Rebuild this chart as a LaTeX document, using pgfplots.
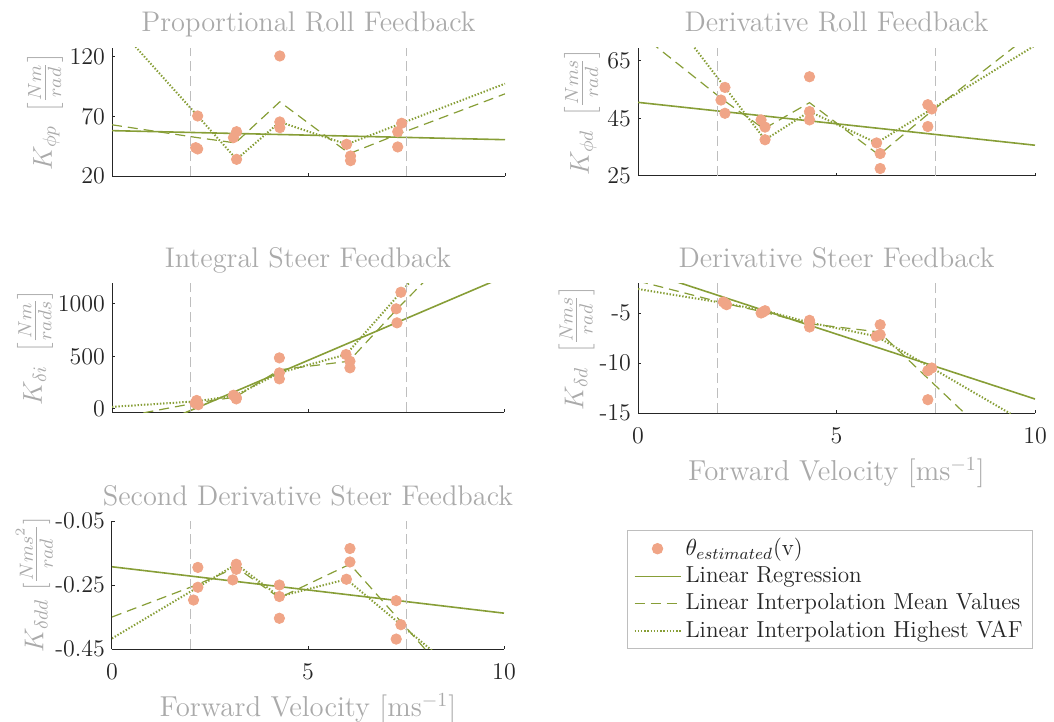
\RequirePackage{fix-cm}
\documentclass[border=0pt]{standalone}
\usepackage{fontspec}
\usepackage{pgfplots}
\pgfplotsset{compat=1.18}
\definecolor{pt}{RGB}{240,165,135}
\definecolor{ol}{RGB}{135,158,55}
\definecolor{tl}{RGB}{38,38,38}
\definecolor{lg}{RGB}{170,170,170}
\definecolor{vg}{RGB}{190,190,190}
\pgfplotsset{
 every axis/.append style={
  scale only axis, axis lines*=left, axis line style={tl, line width=0.5pt, -},
  tick align=inside, major tick length=1.7pt, tick style={tl, line width=0.5pt},
  xmin=0, xmax=10, xtick={0,5,10},
  title style={anchor=base, yshift=2pt, font=\fontsize{14.2}{16}\selectfont, text=lg},
  ylabel style={font=\fontsize{13.6}{16}\selectfont, text=lg, anchor=center, inner sep=0pt},
  xlabel style={font=\fontsize{14.4}{16}\selectfont, text=lg},
  tick label style={font=\fontsize{12}{14}\selectfont, text=tl},
  xticklabel style={yshift=-3.5pt},
 },
 pts/.style={only marks, mark=*, mark size=2.6pt, color=pt, mark options={draw=none, fill=pt},
   legend image code/.code={\draw[mark repeat=2,mark phase=2,##1] plot coordinates {(0pt,0pt)(11.5pt,0pt)(23pt,0pt)};}},
 reg/.style={ol, line width=0.8pt, no marks, legend image code/.code={\draw[##1] (0pt,0pt) -- (23pt,0pt);}},
 mean/.style={ol, line width=0.6pt, dash pattern=on 5pt off 3pt, no marks, legend image code/.code={\draw[##1] (0pt,0pt) -- (23pt,0pt);}},
 vaf/.style={ol, line width=1pt, dash pattern=on 0.7pt off 0.9pt, no marks, legend image code/.code={\draw[##1] (0pt,0pt) -- (23pt,0pt);}},
 vl/.style={vg, line width=0.5pt, dash pattern=on 5pt off 2.5pt, forget plot, no marks},
}
\begin{document}
\begin{tikzpicture}
\path[use as bounding box] (0,0) rectangle (527pt,-361pt);

% Panel 1
\begin{axis}[at={(56pt,-24pt)}, anchor=north west, width=196.5pt, height=64pt,
 ymin=20, ymax=127.5, ytick={20,70,120}, yticklabels={20,70,120}, xticklabel=\empty,
 title={Proportional Roll Feedback}, ylabel={$K_{\phi p}\ \left[\frac{Nm}{rad}\right]$},
 ylabel style={at={(axis description cs:-0.1705,0.5)}}]
\addplot[pts] coordinates {(2.18,70.4)(2.13,43.8)(2.18,42.7)(3.09,52.2)(3.17,57.2)(3.17,34.0)(4.27,120.8)(4.27,65.4)(4.27,60.6)(5.97,46.6)(6.07,36.8)(6.07,32.9)(7.37,64.3)(7.27,57.2)(7.27,44.4)};
\addplot[reg] coordinates {(0,58.1)(10,50.5)};
\addplot[mean] coordinates {(0,63)(2.16,52.3)(3.14,47.8)(4.27,82.3)(6.04,38.8)(7.3,55.3)(10,89)};
\addplot[vaf] coordinates {(0,150.6)(2.18,70.4)(3.17,34)(4.27,65.4)(5.97,46.6)(7.37,64.3)(10,97.5)};
\addplot[vl] coordinates {(2,20)(2,127.5)};
\addplot[vl] coordinates {(7.5,20)(7.5,127.5)};
\end{axis}

% Panel 2
\begin{axis}[at={(319pt,-24pt)}, anchor=north west, width=198.5pt, height=64pt,
 ymin=25, ymax=69.5, ytick={25,45,65}, yticklabels={25,45,65}, xticklabel=\empty,
 title={Derivative Roll Feedback}, ylabel={$K_{\phi d}\ \left[\frac{Nms}{rad}\right]$},
 ylabel style={at={(axis description cs:-0.141,0.5)}}]
\addplot[pts] coordinates {(2.19,55.8)(2.09,51.4)(2.19,46.8)(3.1,44.5)(3.2,42)(3.2,37.6)(4.32,59.5)(4.32,47.4)(4.32,44.5)(6.01,36.5)(6.1,32.8)(6.1,27.6)(7.3,49.8)(7.4,48.3)(7.3,42.2)};
\addplot[reg] coordinates {(0,50.6)(10,35.7)};
\addplot[mean] coordinates {(0,75)(2.16,51.3)(3.17,41.4)(4.32,50.5)(6.07,32.3)(7.33,46.8)(10,75.5)};
\addplot[vaf] coordinates {(0,95.2)(2.19,55.8)(3.2,37.6)(4.32,47.4)(6.01,36.5)(7.4,48.3)(10,70.4)};
\addplot[vl] coordinates {(2,25)(2,69.5)};
\addplot[vl] coordinates {(7.5,25)(7.5,69.5)};
\end{axis}

% Panel 3
\begin{axis}[at={(56pt,-141.5pt)}, anchor=north west, width=196pt, height=64.5pt,
 ymin=-30, ymax=1200, ytick={0,500,1000}, yticklabels={0,500,1000}, xticklabel=\empty,
 title={Integral Steer Feedback}, ylabel={$K_{\delta i}\ \left[\frac{Nm}{rads}\right]$},
 ylabel style={at={(axis description cs:-0.196,0.5)}}]
\addplot[pts] coordinates {(2.16,80)(2.12,55)(2.2,40)(3.1,130)(3.17,110)(3.17,95)(4.27,486)(4.27,343)(4.27,286)(5.97,518)(6.07,454)(6.07,391)(7.37,1112)(7.25,954)(7.27,820)};
\addplot[reg] coordinates {(0,-335)(10,1259)};
\addplot[mean] coordinates {(0,-95)(2.16,58)(3.15,112)(4.27,372)(6.04,454)(7.3,962)(10,1988)};
\addplot[vaf] coordinates {(0,19)(2.16,72)(3.15,127)(4.27,343)(5.97,518)(7.37,1112)(10,2227)};
\addplot[vl] coordinates {(2,-30)(2,1200)};
\addplot[vl] coordinates {(7.5,-30)(7.5,1200)};
\end{axis}

% Panel 4
\begin{axis}[at={(319pt,-141.5pt)}, anchor=north west, width=198.5pt, height=65pt,
 ymin=-15, ymax=-2, ytick={-15,-10,-5}, yticklabels={-15,-10,-5}, xticklabels={0,5,10},
 title={Derivative Steer Feedback}, ylabel={$K_{\delta d}\ \left[\frac{Nms}{rad}\right]$},
 ylabel style={at={(axis description cs:-0.155,0.5)}},
 xlabel={Forward Velocity [ms$^{-1}$]}]
\addplot[pts] coordinates {(2.15,-3.9)(2.23,-4.17)(2.2,-4.05)(3.1,-5.0)(3.2,-4.77)(3.15,-4.9)(4.32,-5.73)(4.32,-6.4)(4.32,-5.95)(6.1,-6.17)(6.0,-7.33)(6.1,-7.17)(7.3,-10.77)(7.4,-10.5)(7.3,-13.67)};
\addplot[reg] coordinates {(0,-0.62)(10,-13.6)};
\addplot[mean] coordinates {(0,-1.8)(2.19,-4.04)(3.15,-4.89)(4.32,-6.08)(6.07,-6.89)(7.33,-11.65)(10,-21.7)};
\addplot[vaf] coordinates {(0,-2.6)(2.15,-4.0)(3.2,-4.77)(4.32,-5.95)(6.0,-7.33)(7.4,-10.5)(10,-16.5)};
\addplot[vl] coordinates {(2,-15)(2,-2)};
\addplot[vl] coordinates {(7.5,-15)(7.5,-2)};
\end{axis}

% Panel 5
\begin{axis}[at={(56pt,-260.5pt)}, anchor=north west, width=196pt, height=64pt,
 ymin=-0.45, ymax=-0.05, ytick={-0.45,-0.25,-0.05}, yticklabels={-0.45,-0.25,-0.05}, xticklabels={0,5,10},
 title={Second Derivative Steer Feedback}, ylabel={$K_{\delta dd}\ [\frac{Nms^2}{rad}]$},
 ylabel style={at={(axis description cs:-0.198,0.5)}},
 xlabel={Forward Velocity [ms$^{-1}$]},
 legend style={at={(1.3138,0.9297)}, anchor=north west, draw=vg, line width=0.5pt,
   font=\fontsize{11.6}{13.5}\selectfont, text=tl, cells={anchor=west}}]
\addplot[pts] coordinates {(2.19,-0.195)(2.19,-0.257)(2.08,-0.297)(3.17,-0.185)(3.17,-0.201)(3.08,-0.234)(4.27,-0.25)(4.27,-0.286)(4.27,-0.354)(6.07,-0.136)(6.07,-0.178)(5.98,-0.232)(7.25,-0.299)(7.37,-0.374)(7.25,-0.419)};
\addlegendentry{$\theta_{estimated}$(v)}
\addplot[reg] coordinates {(0,-0.193)(10,-0.338)};
\addlegendentry{Linear Regression}
\addplot[mean] coordinates {(0,-0.35)(2.15,-0.25)(3.17,-0.195)(4.27,-0.29)(6.07,-0.185)(7.3,-0.355)(10,-0.73)};
\addlegendentry{Linear Interpolation Mean Values}
\addplot[vaf] coordinates {(0,-0.417)(2.19,-0.257)(3.17,-0.185)(4.27,-0.286)(5.98,-0.232)(7.37,-0.374)(10,-0.642)};
\addlegendentry{Linear Interpolation Highest VAF}
\addplot[vl] coordinates {(2,-0.45)(2,-0.05)};
\addplot[vl] coordinates {(7.5,-0.45)(7.5,-0.05)};
\end{axis}
\end{tikzpicture}
\end{document}
